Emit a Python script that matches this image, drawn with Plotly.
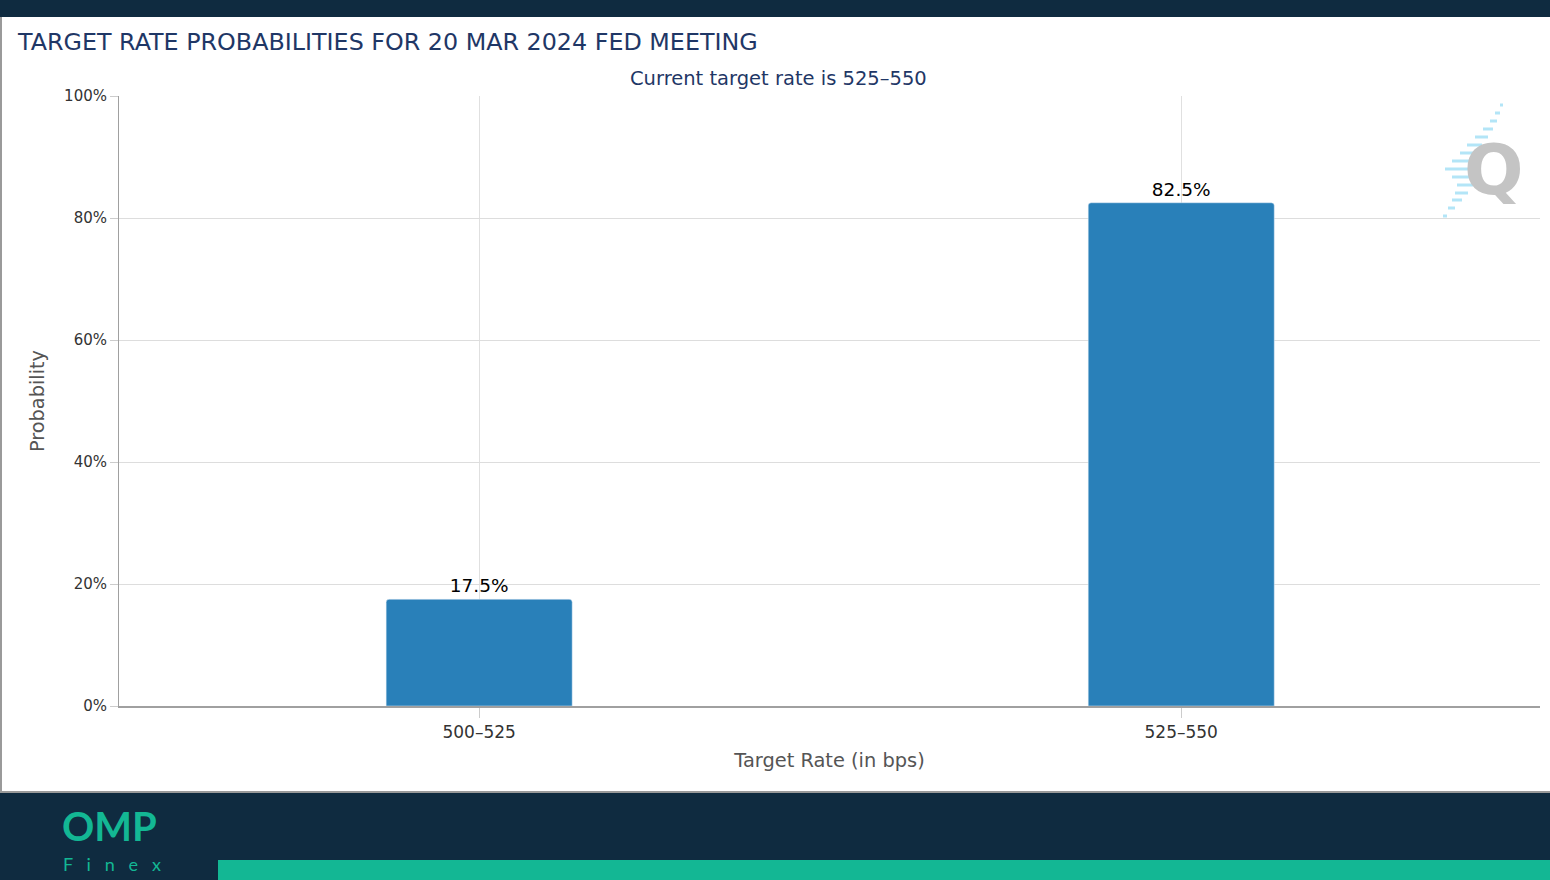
import plotly.graph_objects as go

categories = ["500–525", "525–550"]
probabilities = [17.5, 82.5]
y_ticks = [0, 20, 40, 60, 80, 100]
y_tick_labels = ["0%", "20%", "40%", "60%", "80%", "100%"]

W, H = 1550, 880
X0, X1, Y0, Y1 = 119, 1540, 96, 706
PW, PH = X1 - X0, Y1 - Y0

def px(x):
    return (x - X0) / PW

def py(y):
    return (Y1 - y) / PH

FONT = "Lucida Grande, DejaVu Sans, sans-serif"
NAVY = "#0f2b40"
GREEN = "#13b794"

fig = go.Figure()
fig.add_trace(go.Bar(
    x=categories, y=probabilities,
    marker=dict(color="#2980b9", cornerradius=3),
    width=0.265,
    texttemplate="%{y:.1f}%", textposition="outside",
    textfont=dict(size=18.5, color="#000000", family=FONT),
    cliponaxis=False,
    hoverinfo="x+y",
))

shapes = []
shapes.append(dict(type="rect", xref="paper", yref="paper", x0=px(-5), x1=px(W + 5), y0=py(17), y1=py(-5),
                   fillcolor=NAVY, line=dict(width=0), layer="above"))
shapes.append(dict(type="line", xref="paper", yref="paper", x0=px(1), x1=px(1), y0=py(17), y1=py(792),
                   line=dict(color="#9a9a9a", width=2)))
shapes.append(dict(type="line", xref="paper", yref="paper", x0=px(0), x1=px(W), y0=py(792), y1=py(792),
                   line=dict(color="#9a9a9a", width=2)))
shapes.append(dict(type="rect", xref="paper", yref="paper", x0=px(-5), x1=px(W + 5), y0=py(885), y1=py(793),
                   fillcolor=NAVY, line=dict(width=0)))
shapes.append(dict(type="rect", xref="paper", yref="paper", x0=px(218), x1=px(W + 5), y0=py(885), y1=py(860),
                   fillcolor=GREEN, line=dict(width=0)))
# watermark speed lines
wm = [(1500, 1503, 105), (1495, 1500, 113), (1490, 1497, 121), (1483, 1493, 129),
      (1475, 1488, 137), (1467, 1482, 145), (1460, 1475, 153), (1452, 1472, 161),
      (1445, 1472, 169), (1452, 1472, 177), (1457, 1473, 185), (1455, 1468, 193),
      (1452, 1462, 200), (1448, 1455, 208), (1443, 1447, 216)]
for a, b, yy in wm:
    shapes.append(dict(type="line", xref="paper", yref="paper", x0=px(a), x1=px(b), y0=py(yy), y1=py(yy),
                       line=dict(color="#b3e5f7", width=3), layer="below"))

annotations = [
    dict(text="TARGET RATE PROBABILITIES FOR 20 MAR 2024 FED MEETING", xref="paper", yref="paper",
         x=px(15), y=py(42), xanchor="left", yanchor="middle", showarrow=False,
         font=dict(size=23.8, color="#1f3766", family=FONT)),
    dict(text="Current target rate is 525–550", xref="paper", yref="paper",
         x=px(778), y=py(79), xanchor="center", yanchor="middle", showarrow=False,
         font=dict(size=19.5, color="#1f3766", family=FONT)),
    dict(text="<b>Q</b>", xref="paper", yref="paper", x=px(1494), y=py(170), xanchor="center", yanchor="middle",
         showarrow=False, font=dict(size=70, color="#c4c4c4", family="Liberation Sans Narrow, DejaVu Sans, sans-serif")),
    dict(text="<b>OMP</b>", xref="paper", yref="paper", x=px(60), y=py(826), xanchor="left", yanchor="middle",
         showarrow=False, font=dict(size=40, color=GREEN, family="Lato, DejaVu Sans, sans-serif")),
    dict(text="F   i   n   e   x", xref="paper", yref="paper", x=px(61), y=py(864), xanchor="left", yanchor="middle",
         showarrow=False, font=dict(size=18, color=GREEN, family="Lato, DejaVu Sans, sans-serif")),
]

fig.update_layout(
    width=W, height=H,
    margin=dict(l=X0, r=W - X1, t=Y0, b=H - Y1, autoexpand=False),
    paper_bgcolor="#ffffff", plot_bgcolor="#ffffff",
    showlegend=False,
    font=dict(family=FONT, color="#333333"),
    shapes=shapes,
    annotations=annotations,
    xaxis=dict(
        range=[-0.513, 1.511],
        showline=True, linecolor="#a0a0a0", linewidth=1.5,
        showgrid=True, gridcolor="#e0e0e0",
        ticks="outside", ticklen=10, tickcolor="#cccccc",
        tickfont=dict(size=17, color="#333333"),
        title=dict(text="Target Rate (in bps)", font=dict(size=19.4, color="#555555"), standoff=12),
    ),
    yaxis=dict(
        range=[0, 100], tickvals=y_ticks, ticktext=y_tick_labels,
        showline=True, linecolor="#a0a0a0", linewidth=1,
        showgrid=True, gridcolor="#dddddd", zeroline=False,
        ticks="outside", ticklen=8, tickcolor="#cccccc",
        tickfont=dict(size=15, color="#333333"),
        title=dict(text="Probability", font=dict(size=19.3, color="#555555"), standoff=14),
    ),
)

fig.write_html("out.html", config={"displayModeBar": False},
               post_script="document.body.style.margin='0';document.body.style.overflow='hidden';")
